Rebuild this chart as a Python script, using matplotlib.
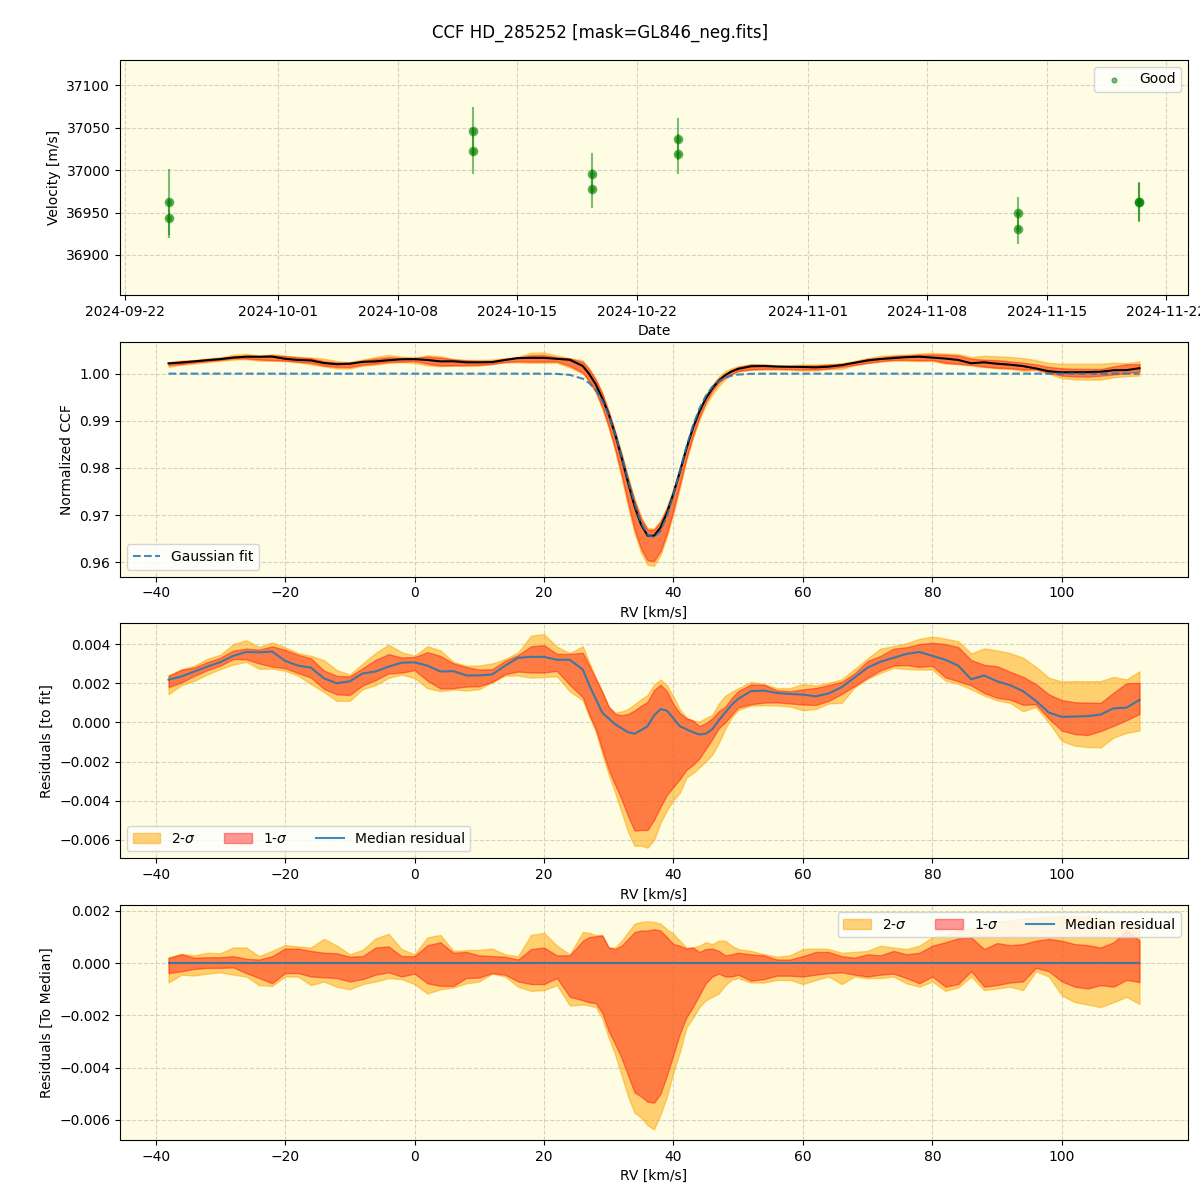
import matplotlib
matplotlib.use('Agg')
import matplotlib.pyplot as plt
import numpy as np
from datetime import datetime

# RV time series (two exposures per night)
obs_dates = [datetime(2024, 9, 24, 13, 40), datetime(2024, 9, 24, 13, 40),
             datetime(2024, 10, 12, 9, 0), datetime(2024, 10, 12, 9, 0),
             datetime(2024, 10, 19, 9, 0), datetime(2024, 10, 19, 9, 0),
             datetime(2024, 10, 24, 9, 40), datetime(2024, 10, 24, 9, 40),
             datetime(2024, 11, 13, 7, 0), datetime(2024, 11, 13, 7, 0),
             datetime(2024, 11, 20, 10, 0), datetime(2024, 11, 20, 10, 0)]
velocity = [36962, 36943, 37046, 37023, 36996, 36978,
            37037, 37019, 36949, 36931, 36963, 36962]
velocity_err = [39, 23, 29, 27, 24, 23, 25, 24, 19, 18, 23, 23]

# CCF grid in km/s (finer across the line)
rv = np.concatenate([np.arange(-38, 26, 2), np.arange(26, 50, 1), np.arange(50, 113, 2)])

# gaussian fit parameters
fit_depth = 0.0348
fit_center = 36.8
fit_sigma = 4.1

# median residual (CCF - fit)
median_resid = [0.00218, 0.00235, 0.0026, 0.00285, 0.00308, 0.0034, 0.0036, 0.00358,
                0.00362, 0.00315, 0.0029, 0.0028, 0.00225, 0.002, 0.0021, 0.0025,
                0.0026, 0.00285, 0.00305, 0.00307, 0.0029, 0.0026, 0.00262, 0.0024,
                0.0024, 0.00245, 0.0029, 0.0033, 0.00335, 0.00335, 0.0032, 0.0032,
                # 26..49
                0.0027, 0.0019, 0.0012, 0.0005, 0.0002, -0.0001, -0.0003, -0.0005,
                -0.00058, -0.0004, -0.0002, 0.00035, 0.00068, 0.0006, 0.0002, -0.0002,
                -0.00035, -0.0005, -0.00062, -0.00058, -0.00035, 0.0001, 0.0005, 0.0009,
                # 50..112
                0.0012, 0.0016, 0.00162, 0.0015, 0.00145, 0.00142, 0.00133, 0.00148,
                0.0018, 0.0023, 0.0028, 0.0031, 0.0033, 0.0035, 0.0036, 0.0034,
                0.0032, 0.0029, 0.0022, 0.0024, 0.0021, 0.0019, 0.0016, 0.0011,
                0.0005, 0.00028, 0.0003, 0.00032, 0.0004, 0.00072, 0.00075, 0.00115]

# band edges relative to the median
up1 = [0.0002, 0.00034, 0.00021, 0.00023, 0.00023, 0.00027, 0.00017, 0.00014,
       0.00027, 0.00056, 0.00056, 0.00047, 0.0004, 0.00038, 0.00025, 0.00027,
       0.0006, 0.00064, 0.00027, 0.00027, 0.00069, 0.0008, 0.0004, 0.00043,
       0.0003, 0.00027, 0.00025, 0.00014, 0.00054, 0.0006, 0.0003, 0.0003,
       0.00086, 0.001, 0.00103, 0.00106, 0.0006, 0.00054, 0.00067, 0.00093,
       0.00119, 0.00125, 0.00125, 0.0013, 0.00125, 0.001, 0.00073, 0.00067,
       0.00056, 0.0006, 0.00043, 0.00054, 0.00056, 0.00047, 0.0003, 0.00034,
       0.0004, 0.00034, 0.0003, 0.00014, 0.00014, 0.00027, 0.00043, 0.00043,
       0.00027, 0.00021, 0.00034, 0.0003, 0.00047, 0.00034, 0.0004, 0.00067,
       0.0008, 0.00095, 0.00099, 0.00054, 0.00077, 0.00069, 0.00073, 0.00086,
       0.00093, 0.00086, 0.00073, 0.00069, 0.0006, 0.0008, 0.00125, 0.00087]
dn1 = [-0.00038, -0.00031, -0.00022, -0.00018, -0.00018, -0.00016, -0.00038, -0.00057,
       -0.00077, -0.00038, -0.00038, -0.00051, -0.00054, -0.00057, -0.0007, -0.00061,
       -0.00044, -0.00035, -0.00051, -0.0004, -0.00077, -0.00087, -0.00087, -0.00057,
       -0.00055, -0.00038, -0.00044, -0.0007, -0.0008, -0.0008, -0.00057, -0.00129,
       -0.00142, -0.0015, -0.00153, -0.0019, -0.0026, -0.0031, -0.00364, -0.0043,
       -0.00495, -0.0051, -0.0053, -0.00534, -0.005, -0.0043, -0.0035, -0.0027,
       -0.00208, -0.00168, -0.00123, -0.00077, -0.00051, -0.0004, -0.00051, -0.00051,
       -0.00044, -0.00067, -0.00061, -0.00048, -0.00048, -0.00051, -0.00044, -0.00038,
       -0.00035, -0.00044, -0.00051, -0.00044, -0.0004, -0.00057, -0.00077, -0.00051,
       -0.0009, -0.0008, -0.00031, -0.0009, -0.00084, -0.00074, -0.0007, -0.00018,
       -0.00031, -0.0007, -0.0009, -0.00097, -0.00084, -0.0009, -0.00064, -0.00072]
up2 = [0.00022, 0.00036, 0.0003, 0.0004, 0.00038, 0.0006, 0.0006, 0.00027,
       0.00047, 0.00069, 0.00064, 0.0006, 0.00093, 0.00067, 0.00034, 0.00051,
       0.00095, 0.00112, 0.00054, 0.00034, 0.00099, 0.00108, 0.00047, 0.0005,
       0.00051, 0.00056, 0.00034, 0.00027, 0.00108, 0.00116, 0.00067, 0.00034,
       0.00119, 0.00116, 0.00108, 0.00108, 0.0006, 0.0006, 0.00086, 0.00119,
       0.00151, 0.00158, 0.0016, 0.00158, 0.00151, 0.0013, 0.00112, 0.00086,
       0.0006, 0.0006, 0.00067, 0.0008, 0.00073, 0.00086, 0.00086, 0.00067,
       0.00054, 0.00047, 0.00034, 0.00025, 0.0003, 0.00054, 0.00056, 0.00054,
       0.0004, 0.00043, 0.00047, 0.00067, 0.0006, 0.00054, 0.00067, 0.00099,
       0.00108, 0.00125, 0.00132, 0.00138, 0.00158, 0.00164, 0.00171, 0.00174,
       0.00178, 0.00181, 0.00181, 0.00178, 0.00171, 0.0016, 0.00145, 0.00146]
dn2 = [-0.00074, -0.00044, -0.00047, -0.0004, -0.00035, -0.00044, -0.00051, -0.00084,
       -0.00087, -0.00051, -0.00051, -0.00084, -0.0007, -0.0009, -0.001, -0.0008,
       -0.0007, -0.00057, -0.00061, -0.0008, -0.00116, -0.001, -0.00093, -0.00077,
       -0.0007, -0.0004, -0.00051, -0.0009, -0.00106, -0.00103, -0.00084, -0.00162,
       -0.00158, -0.00162, -0.00168, -0.0021, -0.00286, -0.0035, -0.0043, -0.0051,
       -0.00573, -0.0059, -0.0062, -0.00636, -0.0058, -0.0051, -0.00416, -0.0034,
       -0.00247, -0.0021, -0.00168, -0.00142, -0.00129, -0.00116, -0.00084, -0.00064,
       -0.00057, -0.00074, -0.00074, -0.00064, -0.00064, -0.0008, -0.00064, -0.00051,
       -0.0008, -0.00051, -0.00057, -0.00057, -0.00051, -0.00077, -0.0009, -0.0007,
       -0.00106, -0.00093, -0.00051, -0.00103, -0.00097, -0.0009, -0.00103, -0.00031,
       -0.00051, -0.00123, -0.00149, -0.00158, -0.00168, -0.00149, -0.00129, -0.00156]

med = np.array(median_resid)
up1 = np.array(up1)
dn1 = np.array(dn1)
up2 = np.array(up2)
dn2 = np.array(dn2)

gauss = 1 - fit_depth * np.exp(-(rv - fit_center) ** 2 / (2 * fit_sigma ** 2))
ccf_med = gauss + med

bg = '#fefce2'
fig, axes = plt.subplots(4, 1, figsize=(12, 12), dpi=100)
plt.subplots_adjust(left=0.1, right=0.99, top=0.95, bottom=0.05, hspace=0.2)
fig.suptitle('CCF HD_285252 [mask=GL846_neg.fits]', fontsize=12)

for ax in axes:
    ax.set_facecolor(bg)
    ax.grid(True, linestyle='--', color='#c8c8c8', alpha=0.8)
    ax.set_axisbelow(True)

# panel 1: velocities
ax = axes[0]
ax.errorbar(obs_dates, velocity, yerr=velocity_err, fmt='o', color='green',
            alpha=0.5, ms=6)
ax.scatter(obs_dates, velocity, s=12, color='green', alpha=0.5, label='Good')
ax.set_ylim(36853, 37130)
ax.set_xlabel('Date')
ax.set_ylabel('Velocity [m/s]')
ax.legend(loc='upper right')

# panel 2: normalized CCF
ax = axes[1]
ax.fill_between(rv, gauss + med + dn2, gauss + med + up2, color='orange', alpha=0.5)
ax.fill_between(rv, gauss + med + dn1, gauss + med + up1, color='red', alpha=0.4)
ax.plot(rv, ccf_med, color='black', lw=1.5)
ax.plot(rv, gauss, '--', color='tab:blue', alpha=0.85, lw=1.5, label='Gaussian fit')
ax.set_xlabel('RV [km/s]')
ax.set_ylabel('Normalized CCF')
ax.legend(loc='lower left')

# panel 3: residuals to fit
ax = axes[2]
ax.fill_between(rv, med + dn2, med + up2, color='orange', alpha=0.5, label=r'2-$\sigma$')
ax.fill_between(rv, med + dn1, med + up1, color='red', alpha=0.4, label=r'1-$\sigma$')
ax.plot(rv, med, color='tab:blue', alpha=0.85, lw=1.5, label='Median residual')
ax.set_xlabel('RV [km/s]')
ax.set_ylabel('Residuals [to fit]')
ax.legend(loc='lower left', ncol=3)

# panel 4: residuals to median
ax = axes[3]
ax.fill_between(rv, dn2, up2, color='orange', alpha=0.5, label=r'2-$\sigma$')
ax.fill_between(rv, dn1, up1, color='red', alpha=0.4, label=r'1-$\sigma$')
ax.plot(rv, med - med, color='tab:blue', alpha=0.85, lw=1.5, label='Median residual')
ax.set_xlabel('RV [km/s]')
ax.set_ylabel('Residuals [To Median]')
ax.legend(loc='upper right', ncol=3)

plt.savefig('out.png')
